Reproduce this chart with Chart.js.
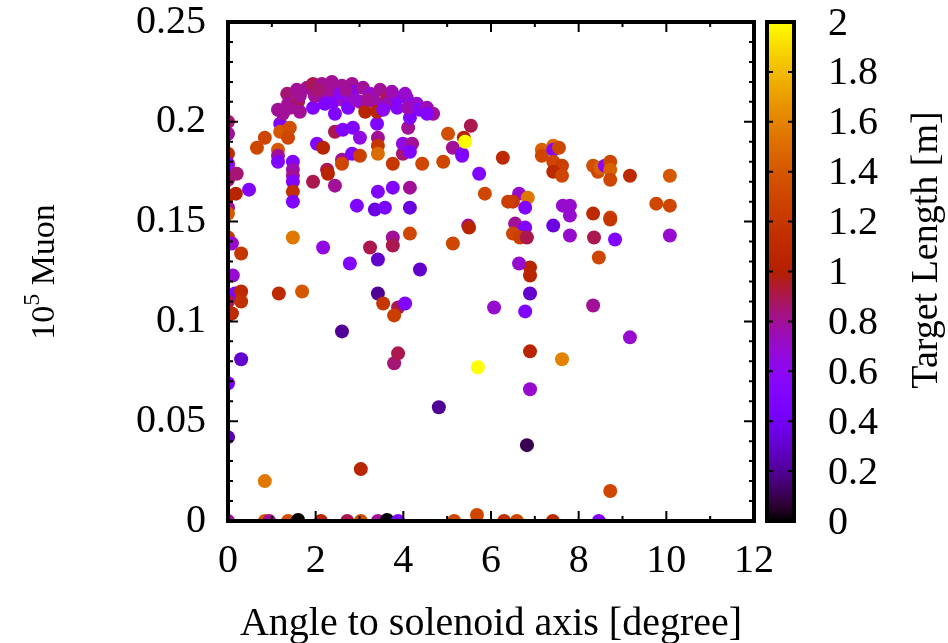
<!DOCTYPE html>
<html>
<head>
<meta charset="utf-8">
<script src="https://cdn.jsdelivr.net/npm/chart.js@4.4.0/dist/chart.umd.min.js"></script>
<style>
  body { margin: 0; background: #fff; }
  #wrap { width: 948px; height: 643px; }
</style>
</head>
<body>
<div id="wrap"><canvas id="grafica" width="948" height="643"></canvas></div>
<script>
// angulo respecto al eje del solenoide [grados]
const angulo = [
  0, 0, 0, 0, 0, 0, 0.2, 0.48, 0, 0.18, 0, 0, 0, 0.09, 0.3, 0, 0.11, 0.16, 0.3, 0.3,
  0, 0, 0.09, 0.3, 0, 0, 0.84, 0, 0.84, 0.94,
  1.37, 1.6, 2.12, 2.72, 3.03, 3.42, 3.63, 3.88, 5.16, 5.68, 6.3, 6.59, 7.41, 8.46, 8.72,
  3.03, 4.81, 6.82, 2.6, 3.79, 3.88, 5.7, 6.89, 6.89, 7.62, 9.17, 8.33, 6.07, 6.78, 6.89,
  6.89, 6.89, 6.64, 8.46, 4.38, 3.42, 3.54, 3.88, 4.04, 3.79, 1.16, 1.69, 1.48, 2.17, 2.78,
  3.24, 3.42, 3.76, 3.76, 4.15, 5.13, 5.48, 5.5, 2.94, 3.35, 3.58, 4.15, 3.42, 3.76, 4.15,
  1.48, 1.48, 1.48, 1.48, 1.48, 1.48, 1.94, 2.26, 2.28, 2.44, 2.03, 2.17, 2.44, 2.62, 2.85,
  3.01, 2.6, 2.6, 2.83, 3.01, 3.4, 3.42, 3.42, 3.42, 3.99, 3.76, 4.11, 3.99, 4.2, 4.15,
  4.43, 5.02, 4.91, 5.13, 5.34, 5.34, 5.38, 5.41, 5.54, 5.73, 6.27, 5.86, 7.16, 7.16, 7.42,
  7.42, 7.55, 7.42, 7.62, 7.42, 7.62, 8.33, 8.44, 8.49, 8.6, 8.72, 8.72, 8.72, 9.17, 10.08,
  6.64, 6.84, 6.5, 6.39, 6.78, 7.64, 7.8, 7.8, 8.33, 8.72, 8.72, 9.77, 10.08, 6.55, 6.78,
  6.5, 6.66, 6.82, 7.42, 7.8, 8.35, 8.83, 10.08,
  1.19, 1.19, 1.41, 1.37, 0.84, 0.66, 1.14, 1.14, 1.14, 4.15,
  1.14, 1.25, 1.35, 1.37, 1.57, 1.6, 1.64, 1.8, 1.94, 1.94, 2.14, 2.17, 2.21, 2.37, 2.4,
  2.44, 2.6, 2.62, 2.74, 2.83, 2.85, 3.01, 3.08, 3.13, 3.24, 3.35, 3.4, 3.47, 3.63, 3.63,
  3.86, 3.86, 4.08, 4.11, 4.31, 4.38, 4.54, 4.68, 1.64, 1.98, 2.33, 2.56, 2.9, 3.19, 3.74,
  4.04, 1.41, 2.05, 2.69, 3.54, 4.54
];

// muones (x 10^5)
const muones = [
  0.200, 0.194, 0.184, 0.179, 0.177, 0.171, 0.174, 0.166, 0.163, 0.164, 0.157, 0.154, 0.142, 0.139, 0.134, 0.123, 0.123, 0.114, 0.115, 0.110,
  0.110, 0.103, 0.104, 0.081, 0.069, 0.042, 0.020, 0, 0, 0,
  0, 0.0005, 0, 0, 0, 0, 0.0005, 0, 0, 0.003, 0, 0, 0, 0, 0.015,
  0.026, 0.057, 0.038, 0.095, 0.079, 0.084, 0.077, 0.066, 0.085, 0.081, 0.092, 0.108, 0.107, 0.105, 0.114,
  0.123, 0.127, 0.129, 0.132, 0.126, 0.114, 0.109, 0.107, 0.109, 0.103, 0.114, 0.115, 0.142, 0.137, 0.129,
  0.137, 0.131, 0.142, 0.138, 0.144, 0.139, 0.148, 0.147, 0.158, 0.156, 0.157, 0.157, 0.165, 0.167, 0.167,
  0.180, 0.176, 0.173, 0.170, 0.165, 0.160, 0.170, 0.176, 0.174, 0.168, 0.189, 0.187, 0.195, 0.196, 0.197,
  0.192, 0.181, 0.179, 0.184, 0.183, 0.199, 0.192, 0.188, 0.184, 0.184, 0.179, 0.197, 0.189, 0.189, 0.185,
  0.179, 0.194, 0.180, 0.187, 0.184, 0.183, 0.192, 0.190, 0.198, 0.174, 0.182, 0.164, 0.186, 0.183, 0.188,
  0.186, 0.187, 0.180, 0.178, 0.175, 0.173, 0.178, 0.175, 0.177, 0.178, 0.180, 0.176, 0.171, 0.173, 0.173,
  0.164, 0.162, 0.160, 0.160, 0.157, 0.158, 0.158, 0.153, 0.154, 0.152, 0.151, 0.159, 0.158, 0.149, 0.147,
  0.144, 0.142, 0.142, 0.148, 0.143, 0.142, 0.141, 0.143,
  0.199, 0.195, 0.197, 0.192, 0.192, 0.187, 0.186, 0.183, 0.180, 0.202,
  0.206, 0.204, 0.214, 0.209, 0.216, 0.210, 0.205, 0.217, 0.219, 0.207, 0.219, 0.212, 0.209, 0.220, 0.210,
  0.204, 0.218, 0.211, 0.207, 0.219, 0.215, 0.210, 0.217, 0.205, 0.214, 0.210, 0.205, 0.216, 0.212, 0.209,
  0.212, 0.207, 0.212, 0.207, 0.209, 0.206, 0.207, 0.204, 0.213, 0.213, 0.216, 0.214, 0.211, 0.211, 0.215,
  0.214, 0.207, 0.216, 0.216, 0.206, 0.204
];

// longitud del blanco [m]
const longitud = [
  0.85, 0.8, 1.1, 0.55, 0.6, 0.85, 0.85, 0.5, 1.1, 1.05, 0.8, 1.4, 1.2, 0.7, 1.2, 0.3, 0.7, 0.5, 1.1, 1.15,
  0.9, 0.2, 1.1, 0.3, 0.45, 0.25, 1.55, 0.8, 1.4, 0.8,
  1.35, 0, 1.05, 0.9, 1.35, 0.8, 0, 0.5, 1.3, 1.3, 1.15, 1.3, 1.1, 0.5, 1.3,
  1.05, 0.2, 0.1, 0.2, 0.85, 0.9, 2, 0.7, 1.05, 1.6, 0.7, 0.8, 0.7, 0.5, 0.3,
  1.05, 1.05, 0.7, 1.3, 0.3, 0.2, 1.2, 0.9, 0.5, 1.25, 1.1, 1.4, 1.55, 0.65, 0.5,
  0.9, 0.3, 0.8, 0.9, 1.3, 1.3, 0.8, 1.05, 0.5, 0.35, 0.45, 0.35, 0.5, 0.5, 0.8,
  0.5, 0.75, 0.8, 0.5, 1.15, 0.5, 0.9, 0.9, 1.05, 0.8, 0.5, 1.05, 0.9, 0.5, 0.5,
  0.65, 0.8, 1.3, 0.5, 1.25, 0.5, 0.8, 1.2, 1.5, 0.85, 1.2, 0.8, 0.65, 0.8, 0.5,
  1.3, 1.35, 1.3, 0.8, 0.6, 0.5, 1.05, 2, 0.9, 0.5, 1.1, 1.3, 1.45, 1.3, 1.5,
  0.55, 1.3, 1.3, 1.25, 1.1, 1.3, 1.35, 1.3, 1.45, 0.6, 1.3, 1.45, 1.3, 1.1, 1.4,
  0.7, 1.55, 1.2, 1.25, 0.5, 0.7, 0.7, 0.7, 1.1, 1.3, 1.2, 1.3, 1.3, 0.8, 0.5,
  1.3, 1.25, 0.9, 0.35, 0.7, 0.9, 0.5, 0.7,
  0.5, 1.4, 1.35, 1.3, 1.3, 1.3, 1.4, 0.8, 0.5, 0.5,
  0.8, 0.8, 0.85, 0.8, 0.8, 0.9, 0.8, 0.8, 0.9, 0.5, 0.8, 0.75, 0.5, 0.8, 0.5,
  0.5, 0.8, 0.7, 0.5, 0.8, 0.5, 0.75, 0.8, 1.05, 0.7, 0.75, 1.05, 0.8, 0.9, 0.75,
  0.55, 0.55, 0.6, 0.75, 0.7, 0.55, 0.75, 0.8, 0.8, 0.8, 0.8, 0.6, 0.7, 0.8, 0.75,
  0.7, 0.8, 0.85, 0.8, 0.6, 0.55
];

const ticksX = [0, 2, 4, 6, 8, 10, 12];
const ticksY = [0, 0.05, 0.1, 0.15, 0.2, 0.25];
const ticksZ = [0, 0.2, 0.4, 0.6, 0.8, 1, 1.2, 1.4, 1.6, 1.8, 2];

const fuente = "'Liberation Serif', 'DejaVu Serif', serif";
const zMax = 2;

// paleta tipo gnuplot (rgbformulae 7,5,15)
function paleta(z) {
  const t = Math.min(1, Math.max(0, z / zMax));
  const r = Math.sqrt(t);
  const g = t * t * t;
  const b = Math.max(0, Math.min(1, Math.sin(2 * Math.PI * t)));
  return `rgb(${Math.round(r * 255)},${Math.round(g * 255)},${Math.round(b * 255)})`;
}

const puntos = angulo.map((a, i) => ({ x: a, y: muones[i] }));
const colores = longitud.map(paleta);

const marco = {
  id: "marco",
  afterDatasetsDraw(chart) {
    const { ctx, chartArea: ca, scales } = chart;
    const sx = scales.x, sy = scales.y;
    ctx.save();
    ctx.strokeStyle = "#000";
    ctx.lineWidth = 2;
    // ticks hacia dentro
    for (let v = 0; v <= 12; v += 1) {
      const px = sx.getPixelForValue(v);
      const len = v % 2 === 0 ? 10 : 5;
      ctx.beginPath();
      ctx.moveTo(px, ca.bottom); ctx.lineTo(px, ca.bottom - len);
      ctx.moveTo(px, ca.top); ctx.lineTo(px, ca.top + len);
      ctx.stroke();
    }
    for (let k = 0; k <= 25; k++) {
      const py = sy.getPixelForValue(k / 100);
      const len = k % 5 === 0 ? 10 : 5;
      ctx.beginPath();
      ctx.moveTo(ca.left, py); ctx.lineTo(ca.left + len, py);
      ctx.moveTo(ca.right, py); ctx.lineTo(ca.right - len, py);
      ctx.stroke();
    }
    ctx.lineWidth = 4;
    ctx.strokeRect(ca.left, ca.top, ca.right - ca.left, ca.bottom - ca.top);

    // barra de color
    const bx = 767, bw = 27;
    const grad = ctx.createLinearGradient(0, ca.bottom, 0, ca.top);
    for (let k = 0; k <= 40; k++) {
      grad.addColorStop(k / 40, paleta(k / 40 * zMax));
    }
    ctx.fillStyle = grad;
    ctx.fillRect(bx, ca.top, bw, ca.bottom - ca.top);
    ctx.lineWidth = 2;
    ctx.fillStyle = "#000";
    ctx.font = "40px " + fuente;
    ctx.textAlign = "left";
    ctx.textBaseline = "middle";
    ticksZ.forEach(z => {
      const py = ca.bottom - (z / zMax) * (ca.bottom - ca.top);
      if (z > 0 && z < zMax) {
        ctx.beginPath();
        ctx.moveTo(bx, py); ctx.lineTo(bx + 6, py);
        ctx.moveTo(bx + bw, py); ctx.lineTo(bx + bw - 6, py);
        ctx.stroke();
      }
      ctx.fillText(String(z), 828, py + 2);
    });
    ctx.lineWidth = 4;
    ctx.strokeRect(bx, ca.top, bw, ca.bottom - ca.top);

    // titulos
    ctx.textAlign = "center";
    ctx.fillText("Angle to solenoid axis [degree]", (ca.left + ca.right) / 2, 624);

    ctx.save();
    ctx.translate(927, 250);
    ctx.rotate(-Math.PI / 2);
    ctx.font = "38px " + fuente;
    ctx.fillText("Target Length [m]", 0, 0);
    ctx.restore();

    ctx.save();
    ctx.translate(45, 272);
    ctx.rotate(-Math.PI / 2);
    ctx.textAlign = "left";
    const t1 = "10", t2 = "5", t3 = " Muon";
    ctx.font = "34px " + fuente;
    const w1 = ctx.measureText(t1).width, w3 = ctx.measureText(t3).width;
    ctx.font = "24px " + fuente;
    const w2 = ctx.measureText(t2).width;
    let x0 = -(w1 + w2 + w3) / 2;
    ctx.font = "34px " + fuente;
    ctx.fillText(t1, x0, 0);
    ctx.font = "24px " + fuente;
    ctx.fillText(t2, x0 + w1, -12);
    ctx.font = "34px " + fuente;
    ctx.fillText(t3, x0 + w1 + w2, 0);
    ctx.restore();
    ctx.restore();
  }
};

new Chart(document.getElementById("grafica").getContext("2d"), {
  type: "scatter",
  data: {
    datasets: [{
      data: puntos,
      backgroundColor: colores,
      borderWidth: 0,
      pointRadius: 7,
      pointHoverRadius: 7
    }]
  },
  options: {
    responsive: false,
    animation: false,
    events: [],
    layout: { padding: { top: 22, right: 194, left: 0, bottom: 0 } },
    plugins: { legend: { display: false }, tooltip: { enabled: false } },
    scales: {
      x: {
        type: "linear", min: 0, max: 12,
        afterFit(s) { s.height = 122; s.paddingLeft = 0; s.paddingRight = 0; },
        afterBuildTicks(s) { s.ticks = ticksX.map(v => ({ value: v })); },
        grid: { display: false, drawTicks: false },
        border: { display: false },
        ticks: { color: "#000", font: { family: fuente, size: 40 }, padding: 16, maxRotation: 0 }
      },
      y: {
        type: "linear", min: 0, max: 0.25,
        afterFit(s) { s.width = 228; s.paddingTop = 0; s.paddingBottom = 0; },
        afterBuildTicks(s) { s.ticks = ticksY.map(v => ({ value: v })); },
        grid: { display: false, drawTicks: false },
        border: { display: false },
        ticks: {
          color: "#000", font: { family: fuente, size: 40 }, padding: 22,
          callback: v => String(+v.toFixed(2))
        }
      }
    }
  },
  plugins: [marco]
});
</script>
</body>
</html>
